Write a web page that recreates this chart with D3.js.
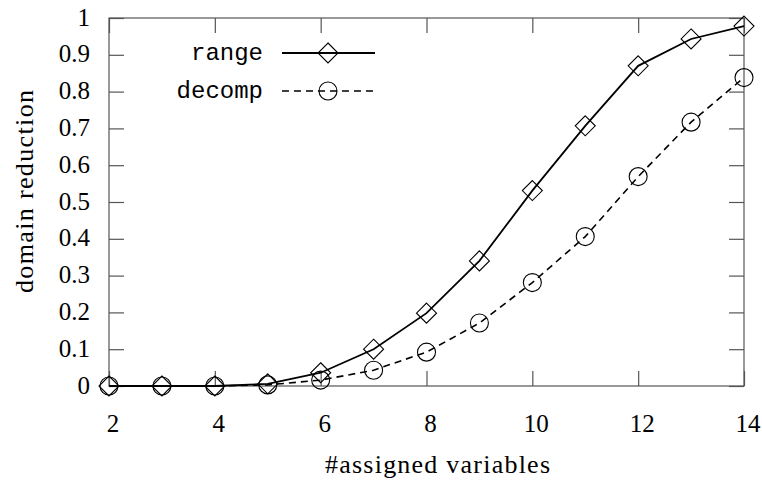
<!DOCTYPE html>
<html>
<head>
<meta charset="utf-8">
<script src="https://cdn.jsdelivr.net/npm/d3@7"></script>
<style>
  body { margin: 0; background: #fff; }
</style>
</head>
<body>
<div id="chart"></div>
<script>
const xValues = [2, 3, 4, 5, 6, 7, 8, 9, 10, 11, 12, 13, 14];
const rangeValues = [0, 0, 0, 0.006, 0.036, 0.10, 0.198, 0.34, 0.531, 0.707, 0.87, 0.943, 0.978];
const decompValues = [0, 0, 0, 0.003, 0.016, 0.043, 0.092, 0.171, 0.281, 0.406, 0.569, 0.717, 0.838];
const xTicks = [2, 4, 6, 8, 10, 12, 14];
const yTicks = [0, 0.1, 0.2, 0.3, 0.4, 0.5, 0.6, 0.7, 0.8, 0.9, 1];

const width = 762, height = 480;
const margin = { top: 18, right: 18, bottom: 94, left: 109 };
const iw = width - margin.left - margin.right;
const ih = height - margin.top - margin.bottom;

const serif = '"Liberation Serif"';
const mono = '"Liberation Mono"';

const svg = d3.select('#chart').append('svg')
    .attr('width', width)
    .attr('height', height);

const g = svg.append('g')
    .attr('transform', `translate(${margin.left},${margin.top})`);

const x = d3.scaleLinear().domain([2, 14]).range([0, iw]);
const y = d3.scaleLinear().domain([0, 1]).range([ih, 0]);

const axisColor = '#555';
const tickLen = 15;

// 刻度：四边都向内（gnuplot 风格）
const bottomAxis = g.append('g')
    .attr('transform', `translate(0,${ih})`)
    .call(d3.axisBottom(x).tickValues(xTicks).tickSize(-tickLen).tickFormat(d3.format('d')))
    .call(a => a.select('.domain').remove());
bottomAxis.selectAll('.tick text')
    .attr('y', 46).attr('dy', null).attr('dx', 3.5);

g.append('g')
    .call(d3.axisTop(x).tickValues(xTicks).tickSize(-tickLen).tickFormat(''))
    .call(a => a.select('.domain').remove());

const leftAxis = g.append('g')
    .call(d3.axisLeft(y).tickValues(yTicks).tickSize(-tickLen).tickFormat(d => d === 0 || d === 1 ? d : d3.format('.1f')(d)))
    .call(a => a.select('.domain').remove());
leftAxis.selectAll('.tick text')
    .attr('x', -19).attr('dy', null).attr('y', 7);

g.append('g')
    .attr('transform', `translate(${iw},0)`)
    .call(d3.axisRight(y).tickValues(yTicks).tickSize(-tickLen).tickFormat(''))
    .call(a => a.select('.domain').remove());

g.selectAll('g').attr('font-family', null);
g.selectAll('.tick line').attr('stroke', axisColor).attr('stroke-width', 1.2);
g.selectAll('.tick text')
    .style('font-family', serif)
    .style('font-size', '25px')
    .attr('fill', '#000');

g.append('rect')
    .attr('width', iw).attr('height', ih)
    .attr('fill', 'none')
    .attr('stroke', axisColor)
    .attr('stroke-width', 1.2);

const line = d3.line().x(d => x(d[0])).y(d => y(d[1]));
const rangeData = xValues.map((v, i) => [v, rangeValues[i]]);
const decompData = xValues.map((v, i) => [v, decompValues[i]]);

const diamond = 'M0,-10L10,0L0,10L-10,0Z';

g.append('path').datum(decompData)
    .attr('d', line)
    .attr('fill', 'none').attr('stroke', '#000')
    .attr('stroke-width', 1.6).attr('stroke-dasharray', '7,5');
g.selectAll('.circ').data(decompData).enter().append('circle')
    .attr('cx', d => x(d[0])).attr('cy', d => y(d[1])).attr('r', 9)
    .attr('fill', 'none').attr('stroke', '#000').attr('stroke-width', 1.1);

g.append('path').datum(rangeData)
    .attr('d', line)
    .attr('fill', 'none').attr('stroke', '#000')
    .attr('stroke-width', 1.8);
g.selectAll('.diam').data(rangeData).enter().append('path')
    .attr('d', diamond)
    .attr('transform', d => `translate(${x(d[0])},${y(d[1])})`)
    .attr('fill', 'none').attr('stroke', '#000').attr('stroke-width', 1.1);

// 图例
const legend = svg.append('g');
const items = [
    { name: 'range', y: 53, dash: null, mark: 'diamond' },
    { name: 'decomp', y: 91, dash: '7,5', mark: 'circle' }
];
items.forEach(it => {
    legend.append('text')
        .attr('x', 263).attr('y', it.y + 7)
        .attr('text-anchor', 'end')
        .style('font-family', mono)
        .style('font-size', '24px')
        .text(it.name);
    legend.append('line')
        .attr('x1', 282).attr('x2', 375).attr('y1', it.y).attr('y2', it.y)
        .attr('stroke', '#000').attr('stroke-width', it.dash ? 1.6 : 1.8)
        .attr('stroke-dasharray', it.dash);
    if (it.mark === 'diamond') {
        legend.append('path').attr('d', diamond)
            .attr('transform', `translate(328,${it.y})`)
            .attr('fill', 'none').attr('stroke', '#000').attr('stroke-width', 1.1);
    } else {
        legend.append('circle').attr('cx', 328).attr('cy', it.y).attr('r', 9)
            .attr('fill', 'none').attr('stroke', '#000').attr('stroke-width', 1.1);
    }
});

// 轴标题
svg.append('text')
    .attr('x', 325).attr('y', 473)
    .attr('textLength', 225).attr('lengthAdjust', 'spacing')
    .style('font-family', serif)
    .style('font-size', '26px')
    .text('#assigned variables');
svg.append('text')
    .attr('transform', `translate(33,293) rotate(-90)`)
    .attr('textLength', 203).attr('lengthAdjust', 'spacing')
    .style('font-family', serif)
    .style('font-size', '26px')
    .text('domain reduction');
</script>
</body>
</html>
